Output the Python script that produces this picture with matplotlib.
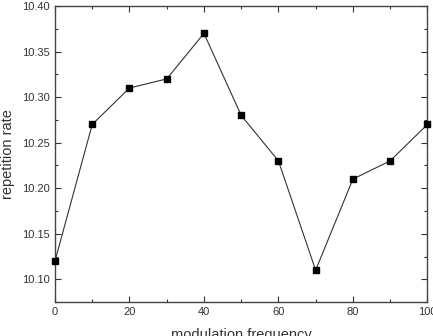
import numpy as np
import matplotlib
matplotlib.use('Agg')
import matplotlib.pyplot as plt
from matplotlib.ticker import MultipleLocator

plt.rcParams['font.family'] = ['Liberation Sans', 'DejaVu Sans']

# data
freq = [0, 10, 20, 30, 40, 50, 60, 70, 80, 90, 100]
rate = [10.12, 10.27, 10.31, 10.32, 10.37, 10.28, 10.23, 10.11, 10.21, 10.23, 10.27]

fig = plt.figure(figsize=(4.33, 3.36), dpi=100)
ax = fig.add_axes([0.127, 0.101, 0.86, 0.881])

ax.plot(freq, rate, color='#333333', lw=0.8, marker='s', ms=5,
        mfc='black', mec='black', clip_on=False, zorder=3)

ax.set_xlim(0, 100)
ax.set_ylim(10.075, 10.40)
ax.xaxis.set_major_locator(MultipleLocator(20))
ax.xaxis.set_minor_locator(MultipleLocator(10))
ax.yaxis.set_major_locator(MultipleLocator(0.05))
ax.yaxis.set_minor_locator(MultipleLocator(0.025))
ax.yaxis.set_major_formatter(matplotlib.ticker.FormatStrFormatter('%.2f'))

ax.tick_params(which='both', direction='in', top=True, right=True, labelsize=8,
               color='#333333', labelcolor='#333333')
ax.tick_params(which='major', length=4, width=0.8)
ax.tick_params(which='minor', length=2.5, width=0.8)
for s in ax.spines.values():
    s.set_linewidth(1.0)
    s.set_color('#444444')

ax.set_xlabel('modulation frequency', fontsize=10.5, labelpad=8, color='#333333')
ax.set_ylabel('repetition rate', fontsize=10.5, labelpad=5, color='#333333')

fig.savefig('out.png', dpi=100)
